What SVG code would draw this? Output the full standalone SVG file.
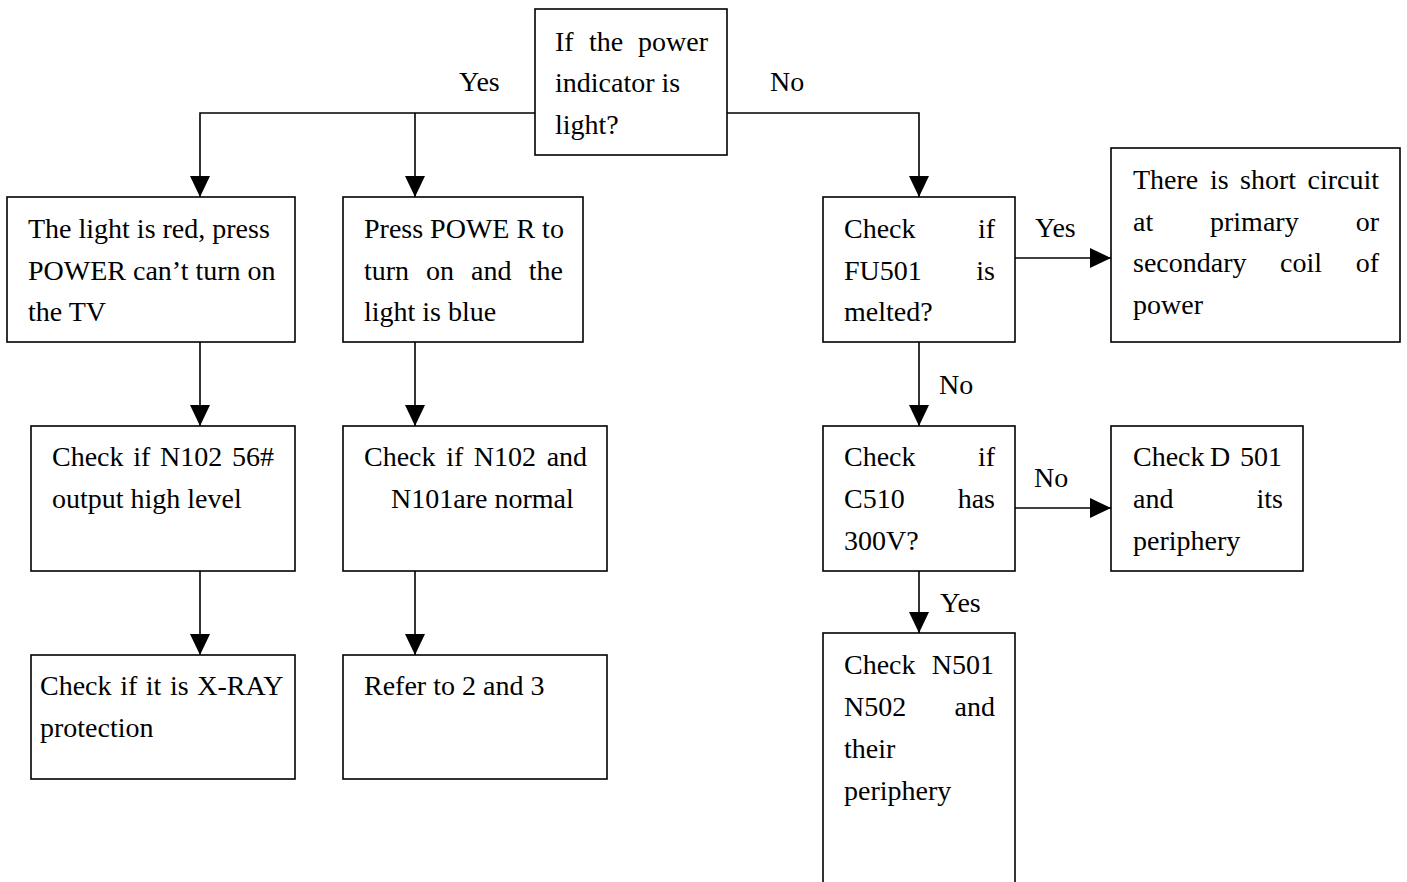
<svg xmlns="http://www.w3.org/2000/svg" width="1407" height="882" viewBox="0 0 1407 882">
<style>
rect.box{fill:#fff;stroke:#000;stroke-width:1.6}
text{font-family:"Liberation Serif","Times New Roman",serif;font-size:28px;fill:#000}
.e{text-anchor:end}
.c path.l{fill:none;stroke:#000;stroke-width:1.6}
</style>
<defs>
<marker id="ah" markerUnits="userSpaceOnUse" markerWidth="22" markerHeight="22" refX="21" refY="10" orient="auto">
<path d="M0,0 L21,10 L0,20 Z" fill="#000"/>
</marker>
</defs>
<rect width="1407" height="882" fill="#fff"/>
<g class="c" id="connectors">
<path class="l" d="M535,113 H200 V197" marker-end="url(#ah)"/>
<path class="l" d="M415,113 V197" marker-end="url(#ah)"/>
<path class="l" d="M727,113 H919 V197" marker-end="url(#ah)"/>
<path class="l" d="M200,342 V426" marker-end="url(#ah)"/>
<path class="l" d="M415,342 V426" marker-end="url(#ah)"/>
<path class="l" d="M200,571 V655" marker-end="url(#ah)"/>
<path class="l" d="M415,571 V655" marker-end="url(#ah)"/>
<path class="l" d="M919,342 V426" marker-end="url(#ah)"/>
<path class="l" d="M919,571 V633" marker-end="url(#ah)"/>
<path class="l" d="M1015,258 H1111" marker-end="url(#ah)"/>
<path class="l" d="M1015,508 H1111" marker-end="url(#ah)"/>
<text x="459" y="91">Yes</text>
<text x="770" y="91">No</text>
<text x="1035" y="237">Yes</text>
<text x="939" y="394">No</text>
<text x="1034" y="487">No</text>
<text x="940" y="612">Yes</text>
</g>
<g id="start">
<rect class="box" x="535" y="9" width="192" height="146"/>
<text y="51"><tspan x="555">If</tspan><tspan x="589">the</tspan><tspan x="708" class="e">power</tspan></text>
<text x="555" y="92">indicator is</text>
<text x="555" y="134">light?</text>
</g>
<g id="red">
<rect class="box" x="7" y="197" width="288" height="145"/>
<text x="28" y="238">The light is red, press</text>
<text x="28" y="280">POWER can’t turn on</text>
<text x="28" y="321">the TV</text>
</g>
<g id="blue">
<rect class="box" x="343" y="197" width="240" height="145"/>
<text x="364" y="238">Press POWE R to</text>
<text y="280"><tspan x="364">turn</tspan><tspan x="426">on</tspan><tspan x="471">and</tspan><tspan x="563" class="e">the</tspan></text>
<text x="364" y="321">light is blue</text>
</g>
<g id="fu501">
<rect class="box" x="823" y="197" width="192" height="145"/>
<text y="238"><tspan x="844">Check</tspan><tspan x="995" class="e">if</tspan></text>
<text y="280"><tspan x="844">FU501</tspan><tspan x="995" class="e">is</tspan></text>
<text x="844" y="321">melted?</text>
</g>
<g id="short">
<rect class="box" x="1111" y="148" width="289" height="194"/>
<text y="189"><tspan x="1133">There</tspan><tspan x="1210">is</tspan><tspan x="1240">short</tspan><tspan x="1379" class="e">circuit</tspan></text>
<text y="231"><tspan x="1133">at</tspan><tspan x="1210">primary</tspan><tspan x="1379" class="e">or</tspan></text>
<text y="272"><tspan x="1133">secondary</tspan><tspan x="1280">coil</tspan><tspan x="1379" class="e">of</tspan></text>
<text x="1133" y="314">power</text>
</g>
<g id="n102">
<rect class="box" x="31" y="426" width="264" height="145"/>
<text x="52" y="466" word-spacing="2.7">Check if N102 56#</text>
<text x="52" y="508">output high level</text>
</g>
<g id="n101">
<rect class="box" x="343" y="426" width="264" height="145"/>
<text x="364" y="466" word-spacing="3.6">Check if N102 and</text>
<text x="391" y="508">N101are normal</text>
</g>
<g id="c510">
<rect class="box" x="823" y="426" width="192" height="145"/>
<text y="466"><tspan x="844">Check</tspan><tspan x="995" class="e">if</tspan></text>
<text y="508"><tspan x="844">C510</tspan><tspan x="995" class="e">has</tspan></text>
<text x="844" y="550">300V?</text>
</g>
<g id="d501">
<rect class="box" x="1111" y="426" width="192" height="145"/>
<text y="466"><tspan x="1133">Check</tspan><tspan x="1210">D</tspan><tspan x="1282" class="e">501</tspan></text>
<text y="508"><tspan x="1133">and</tspan><tspan x="1283" class="e">its</tspan></text>
<text x="1133" y="550">periphery</text>
</g>
<g id="xray">
<rect class="box" x="31" y="655" width="264" height="124"/>
<text x="40" y="695" word-spacing="1.6">Check if it is X-RAY</text>
<text x="40" y="737">protection</text>
</g>
<g id="refer">
<rect class="box" x="343" y="655" width="264" height="124"/>
<text x="364" y="695">Refer to 2 and 3</text>
</g>
<g id="n501">
<rect class="box" x="823" y="633" width="192" height="270"/>
<text y="674"><tspan x="844">Check</tspan><tspan x="994" class="e">N501</tspan></text>
<text y="716"><tspan x="844">N502</tspan><tspan x="995" class="e">and</tspan></text>
<text x="844" y="758">their</text>
<text x="844" y="800">periphery</text>
</g>
</svg>
